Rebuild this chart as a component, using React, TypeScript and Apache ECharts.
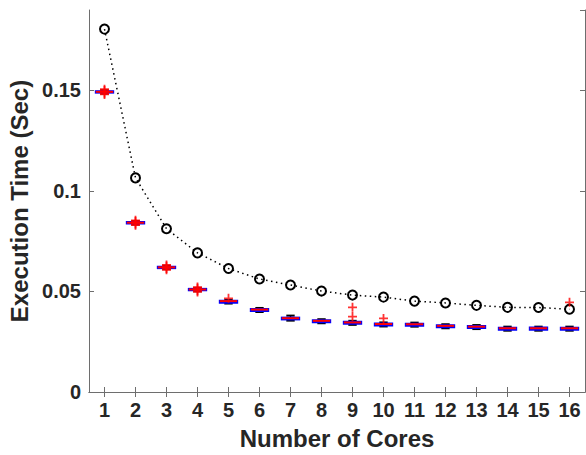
import React, { useEffect, useRef } from "react";
import * as echarts from "echarts";

const cores = ["1", "2", "3", "4", "5", "6", "7", "8", "9", "10", "11", "12", "13", "14", "15", "16"];
const idealTime = [0.1805, 0.1065, 0.0812, 0.0692, 0.0614, 0.0562, 0.0532, 0.0502, 0.0482, 0.0472, 0.0452, 0.0443, 0.0431, 0.0421, 0.042, 0.0412];
const whiskerLow = [0.1484, 0.0833, 0.0611, 0.0501, 0.044, 0.0398, 0.0355, 0.0342, 0.0334, 0.0326, 0.0325, 0.0317, 0.0313, 0.0305, 0.0305, 0.0305];
const boxQ1 = [0.1489, 0.0838, 0.0616, 0.0506, 0.0444, 0.0403, 0.0361, 0.0347, 0.0339, 0.0331, 0.033, 0.0322, 0.0318, 0.031, 0.031, 0.031];
const boxMedian = [0.1493, 0.0842, 0.062, 0.051, 0.0452, 0.041, 0.0367, 0.0354, 0.0346, 0.0338, 0.0337, 0.0329, 0.0325, 0.0317, 0.0317, 0.0317];
const boxQ3 = [0.1496, 0.0845, 0.0623, 0.0513, 0.0454, 0.0413, 0.037, 0.0357, 0.0349, 0.0341, 0.034, 0.0332, 0.0328, 0.032, 0.0321, 0.032];
const whiskerHigh = [0.1501, 0.085, 0.0628, 0.0518, 0.0458, 0.0418, 0.038, 0.0362, 0.0354, 0.0346, 0.0345, 0.0337, 0.0333, 0.0325, 0.0325, 0.0325];
const outlierCore = [1, 1, 1, 1, 2, 2, 2, 2, 3, 3, 3, 3, 4, 4, 4, 4, 5, 9, 9, 10, 16];
const outlierTime = [0.148, 0.1486, 0.15, 0.1506, 0.083, 0.0836, 0.0848, 0.0854, 0.0608, 0.0614, 0.0626, 0.0632, 0.0498, 0.0504, 0.0516, 0.0522, 0.0466, 0.0421, 0.0375, 0.0366, 0.0446];
const yTicks = [0, 0.05, 0.1, 0.15];

const FONT = "'Liberation Sans', Arial, Helvetica, sans-serif";
const AXIS_COLOR = "#6e6e6e";
const TEXT_COLOR = "#262626";

const PLUS = "path://M4,0 L6,0 L6,4 L10,4 L10,6 L6,6 L6,10 L4,10 L4,6 L0,6 L0,4 L4,4 Z";

export default function App() {
  const ref = useRef<HTMLDivElement>(null);

  useEffect(() => {
    if (!ref.current) return;
    const chart = echarts.init(ref.current, undefined, { renderer: "svg" });

    const boxData = cores.map((_, i) => [i, whiskerLow[i], boxQ1[i], boxMedian[i], boxQ3[i], whiskerHigh[i]]);
    const outlierData = outlierCore.map((c, i) => [c - 1, outlierTime[i]]);

    const renderBox = (params: any, api: any) => {
      const idx = api.value(0);
      const lo = api.coord([idx, api.value(1)]);
      const q1 = api.coord([idx, api.value(2)]);
      const med = api.coord([idx, api.value(3)]);
      const q3 = api.coord([idx, api.value(4)]);
      const hi = api.coord([idx, api.value(5)]);
      const band = api.size([1, 0])[0];
      const bw = band * 0.56;
      const cw = band * 0.27;
      const cx = med[0];
      return {
        type: "group",
        children: [
          { type: "line", shape: { x1: cx, y1: q3[1], x2: cx, y2: hi[1] }, style: { stroke: "#000", lineWidth: 1.5 } },
          { type: "line", shape: { x1: cx, y1: q1[1], x2: cx, y2: lo[1] }, style: { stroke: "#000", lineWidth: 1.5 } },
          { type: "line", shape: { x1: cx - cw / 2, y1: hi[1], x2: cx + cw / 2, y2: hi[1] }, style: { stroke: "#000", lineWidth: 2 } },
          { type: "line", shape: { x1: cx - cw / 2, y1: lo[1], x2: cx + cw / 2, y2: lo[1] }, style: { stroke: "#000", lineWidth: 2 } },
          {
            type: "rect",
            shape: { x: cx - bw / 2, y: q3[1], width: bw, height: Math.max(q1[1] - q3[1], 0.5) },
            style: { fill: "none", stroke: "#0000ff", lineWidth: 2 },
          },
          { type: "line", shape: { x1: cx - bw / 2, y1: med[1], x2: cx + bw / 2, y2: med[1] }, style: { stroke: "#ff0000", lineWidth: 2 } },
        ],
      };
    };

    const commonX = {
      type: "category",
      data: cores,
      boundaryGap: true,
      axisLine: { show: true, lineStyle: { color: AXIS_COLOR, width: 1 } },
      axisTick: { show: true, inside: true, alignWithLabel: true, length: 5, lineStyle: { color: AXIS_COLOR } },
      splitLine: { show: false },
    };
    const commonY = {
      type: "value",
      min: 0,
      max: 0.19,
      interval: 0.05,
      axisLine: { show: true, lineStyle: { color: AXIS_COLOR, width: 1 } },
      axisTick: { show: true, inside: true, length: 5, lineStyle: { color: AXIS_COLOR } },
      splitLine: { show: false },
    };

    chart.setOption({
      animation: false,
      backgroundColor: "#ffffff",
      grid: { left: 89, right: 1, top: 10, bottom: 63, containLabel: false, outerBoundsMode: "none" },
      xAxis: [
        {
          ...commonX,
          position: "bottom",
          name: "Number of Cores",
          nameLocation: "middle",
          nameGap: 34,
          nameTextStyle: { fontFamily: FONT, fontWeight: "bold", fontSize: 24, color: TEXT_COLOR },
          axisLabel: { show: true, margin: 8, fontFamily: FONT, fontWeight: "bold", fontSize: 20, color: TEXT_COLOR },
        },
        {
          ...commonX,
          position: "top",
          axisLabel: { show: false },
        },
      ],
      yAxis: [
        {
          ...commonY,
          position: "left",
          name: "Execution Time (Sec)",
          nameLocation: "middle",
          nameGap: 52,
          nameTextStyle: { fontFamily: FONT, fontWeight: "bold", fontSize: 24, color: TEXT_COLOR },
          axisLabel: {
            show: true,
            margin: 8,
            showMaxLabel: false,
            fontFamily: FONT,
            fontWeight: "bold",
            fontSize: 20,
            color: TEXT_COLOR,
            formatter: (v: number) => (yTicks.some((t) => Math.abs(t - v) < 1e-9) ? String(+v.toFixed(2)) : ""),
          },
        },
        {
          ...commonY,
          position: "right",
          axisLabel: { show: false },
        },
      ],
      series: [
        {
          type: "line",
          name: "Ideal",
          xAxisIndex: 0,
          yAxisIndex: 0,
          data: idealTime,
          symbol: "circle",
          symbolSize: 9,
          showSymbol: true,
          lineStyle: { color: "#000", width: 1.5, type: [1.5, 3.5] },
          itemStyle: { color: "rgba(0,0,0,0)", borderColor: "#000", borderWidth: 2 },
          z: 3,
        },
        {
          type: "custom",
          name: "Box",
          xAxisIndex: 0,
          yAxisIndex: 0,
          data: boxData,
          renderItem: renderBox,
          encode: { x: 0, y: [1, 2, 3, 4, 5] },
          z: 2,
        },
        {
          type: "scatter",
          name: "Outliers",
          xAxisIndex: 0,
          yAxisIndex: 0,
          data: outlierData,
          symbol: PLUS,
          symbolSize: 9,
          itemStyle: { color: "#ff0000" },
          z: 4,
        },
      ],
    });

    return () => chart.dispose();
  }, []);

  return <div ref={ref} style={{ width: 586, height: 455, position: "absolute", left: 0, top: 0 }} />;
}
